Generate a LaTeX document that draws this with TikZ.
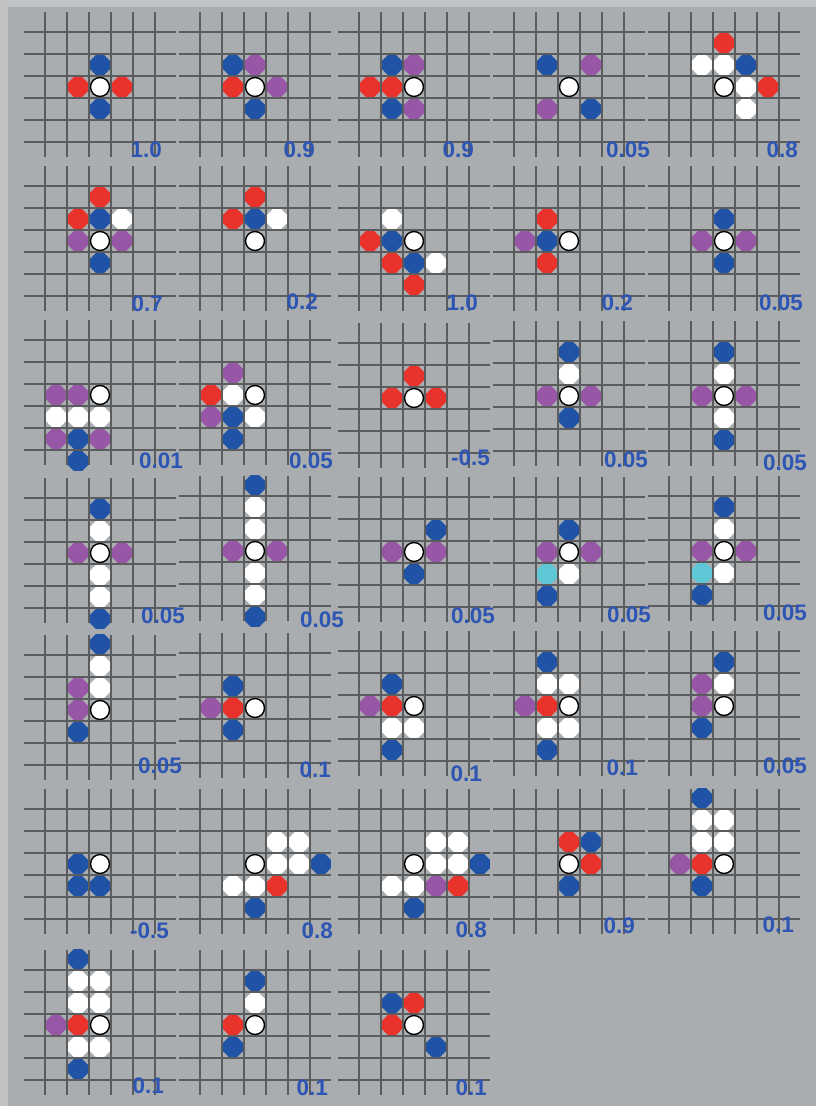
\documentclass[tikz,border=0pt]{standalone}
\usepackage{fontspec}
\setmainfont{Liberation Sans}
\usetikzlibrary{shapes.geometric}
\definecolor{bg}{RGB}{170,173,175}
\definecolor{bgl}{RGB}{192,194,196}
\definecolor{gridc}{RGB}{90,92,94}
\definecolor{cR}{RGB}{234,50,45}
\definecolor{cB}{RGB}{32,82,165}
\definecolor{cP}{RGB}{152,86,166}
\definecolor{cW}{RGB}{255,255,255}
\definecolor{cC}{RGB}{95,200,215}
\definecolor{lblue}{RGB}{45,85,180}
\pgfdeclarelayer{bglayer}
\pgfdeclarelayer{gridlayer}
\pgfsetlayers{bglayer,gridlayer,main}
\tikzset{
  gridline/.style={draw=gridc, line width=1.8pt},
  mk/.style={regular polygon, regular polygon sides=8, minimum size=21.5pt,
    inner sep=0pt, draw=none, fill=c#1},
  centre/.style={circle, minimum size=19pt, inner sep=0pt, fill=white,
    draw=black, line width=1.4pt},
  val/.style={font=\bfseries\fontsize{22.5}{22.5}\selectfont, text=lblue,
    inner sep=0pt, anchor=base east},
}
% #1 id, #2 x0, #3 y0, #4 markers, #5 label x, #6 label y, #7 label
\newcommand\gpanel[7]{%
  \begin{pgfonlayer}{gridlayer}
    \foreach \k in {0,...,5}{
      \draw[gridline] ({#2-21},{#3+22*\k}) -- ({#2+131},{#3+22*\k});
      \draw[gridline] ({#2+22*\k},{#3-20}) -- ({#2+22*\k},{#3+125});
    }
  \end{pgfonlayer}
  \node[centre] (#1o) at ({#2+55},{#3+55}) {};
  \foreach \mk/\cc/\rr in {#4}{
    \node[mk=\mk] (#1n\cc r\rr) at ({#2+22*(\cc)+11},{#3+22*(\rr)+11}) {};
  }
  \node[val] (#1lab) at (#5,#6) {#7};
}
\begin{document}
\begin{tikzpicture}[x=1pt,y=-1pt]
\useasboundingbox (0,0) rectangle (816,1106);
\begin{pgfonlayer}{bglayer}
\fill[bg] (0,0) rectangle (816,1106);
\fill[bgl] (0,0) rectangle (816,7);
\fill[bgl] (0,0) rectangle (8,1106);
\end{pgfonlayer}
% Row 1
\gpanel{p11}{45}{32}{B/2/1,B/2/3,R/1/2,R/3/2}{162}{157}{1.0}
\gpanel{p12}{200}{32}{B/1/1,P/2/1,R/1/2,P/3/2,B/2/3}{315}{157}{0.9}
\gpanel{p13}{359}{32}{R/0/2,R/1/2,B/1/1,P/2/1,B/1/3,P/2/3}{474}{157}{0.9}
\gpanel{p14}{514}{32}{B/1/1,P/3/1,P/1/3,B/3/3}{650}{157}{0.05}
\gpanel{p15}{669}{32}{R/2/0,W/1/1,W/2/1,B/3/1,W/3/2,R/4/2,W/3/3}{798}{157}{0.8}
% Row 2
\gpanel{p21}{45}{186}{R/2/0,R/1/1,B/2/1,W/3/1,P/1/2,P/3/2,B/2/3}{163}{311}{0.7}
\gpanel{p22}{200}{186}{R/2/0,R/1/1,B/2/1,W/3/1}{318}{309}{0.2}
\gpanel{p23}{359}{186}{W/1/1,R/0/2,B/1/2,R/1/3,B/2/3,W/3/3,R/2/4}{478}{310}{1.0}
\gpanel{p24}{514}{186}{R/1/1,P/0/2,B/1/2,R/1/3}{633}{310}{0.2}
\gpanel{p25}{669}{186}{B/2/1,P/1/2,P/3/2,B/2/3}{803}{310}{0.05}
% Row 3
\gpanel{p31}{45}{340}{P/0/2,P/1/2,W/0/3,W/1/3,W/2/3,P/0/4,B/1/4,P/2/4,B/1/5}{183}{468}{0.01}
\gpanel{p32}{200}{340}{P/1/1,R/0/2,W/1/2,P/0/3,B/1/3,W/2/3,B/1/4}{333}{468}{0.05}
\gpanel{p33}{359}{343}{R/2/1,R/1/2,R/3/2}{490}{465}{-0.5}
\gpanel{p34}{514}{341}{B/2/0,W/2/1,P/1/2,P/3/2,B/2/3}{648}{467}{0.05}
\gpanel{p35}{669}{341}{B/2/0,W/2/1,P/1/2,P/3/2,W/2/3,B/2/4}{807}{470}{0.05}
% Row 4
\gpanel{p41}{45}{498}{B/2/0,W/2/1,P/1/2,P/3/2,W/2/3,W/2/4,B/2/5}{185}{623}{0.05}
\gpanel{p42}{200}{496}{B/2/-1,W/2/0,W/2/1,P/1/2,P/3/2,W/2/3,W/2/4,B/2/5}{344}{627}{0.05}
\gpanel{p43}{359}{497}{B/3/1,P/1/2,P/3/2,B/2/3}{495}{623}{0.05}
\gpanel{p44}{514}{497}{B/2/1,P/1/2,P/3/2,C/1/3,W/2/3,B/1/4}{651}{622}{0.05}
\gpanel{p45}{669}{496}{B/2/0,W/2/1,P/1/2,P/3/2,C/1/3,W/2/3,B/1/4}{807}{620}{0.05}
% Row 5
\gpanel{p51}{45}{655}{B/2/-1,W/2/0,P/1/1,W/2/1,P/1/2,B/1/3}{182}{773}{0.05}
\gpanel{p52}{200}{653}{B/1/1,P/0/2,R/1/2,B/1/3}{331}{777}{0.1}
\gpanel{p53}{359}{651}{B/1/1,P/0/2,R/1/2,W/1/3,W/2/3,B/1/4}{482}{781}{0.1}
\gpanel{p54}{514}{651}{B/1/0,W/1/1,W/2/1,P/0/2,R/1/2,W/1/3,W/2/3,B/1/4}{638}{775}{0.1}
\gpanel{p55}{669}{651}{B/2/0,P/1/1,W/2/1,P/1/2,B/1/3}{807}{773}{0.05}
% Row 6
\gpanel{p61}{45}{809}{B/1/2,B/1/3,B/2/3}{169}{938}{-0.5}
\gpanel{p62}{200}{809}{W/3/1,W/4/1,W/3/2,W/4/2,B/5/2,W/1/3,W/2/3,R/3/3,B/2/4}{333}{938}{0.8}
\gpanel{p63}{359}{809}{W/3/1,W/4/1,W/3/2,W/4/2,B/5/2,W/1/3,W/2/3,P/3/3,R/4/3,B/2/4}{487}{937}{0.8}
\gpanel{p64}{514}{809}{R/2/1,B/3/1,R/3/2,B/2/3}{635}{933}{0.9}
\gpanel{p65}{669}{809}{B/1/-1,W/1/0,W/2/0,W/1/1,W/2/1,P/0/2,R/1/2,B/1/3}{794}{932}{0.1}
% Row 7
\gpanel{p71}{45}{970}{B/1/-1,W/1/0,W/2/0,W/1/1,W/2/1,P/0/2,R/1/2,W/1/3,W/2/3,B/1/4}{164}{1093}{0.1}
\gpanel{p72}{200}{970}{B/2/0,W/2/1,R/1/2,B/1/3}{328}{1095}{0.1}
\gpanel{p73}{359}{970}{B/1/1,R/2/1,R/1/2,B/3/3}{487}{1095}{0.1}
\end{tikzpicture}
\end{document}
